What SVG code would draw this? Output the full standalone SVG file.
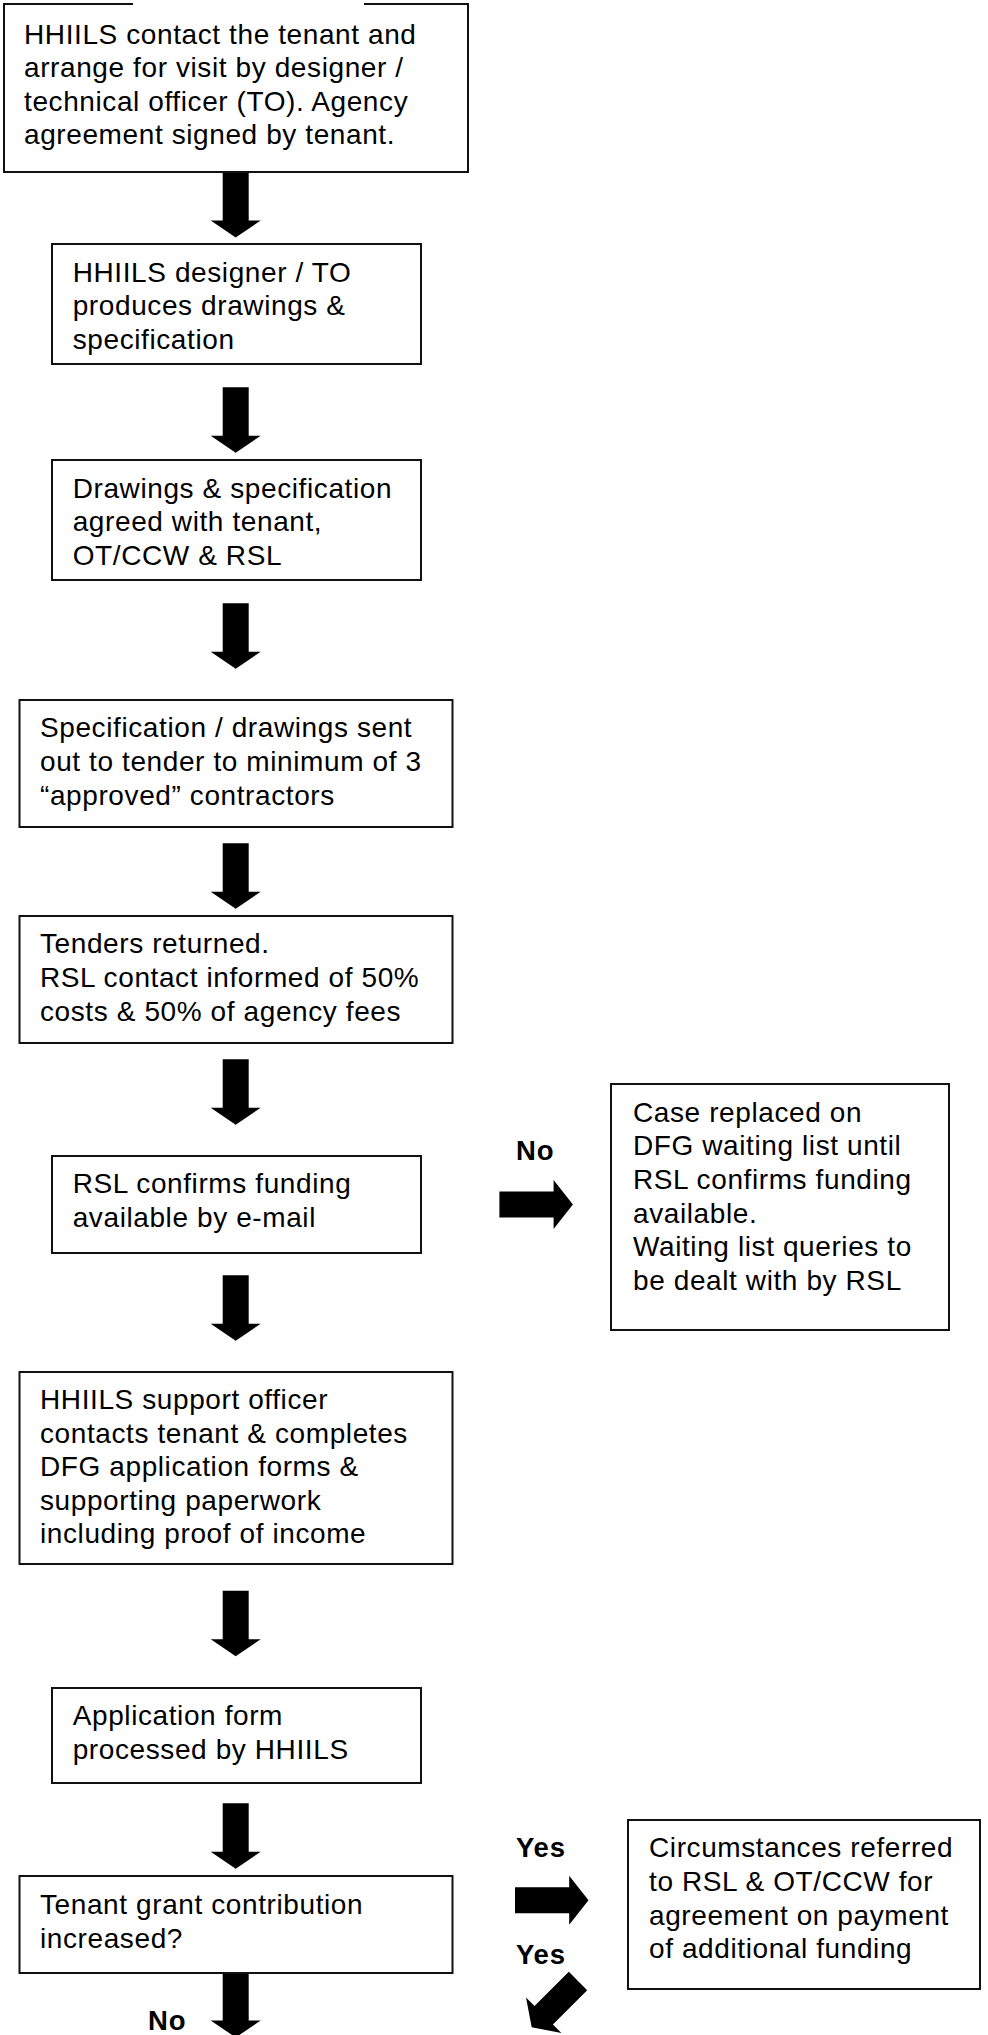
<svg xmlns="http://www.w3.org/2000/svg" xmlns:xlink="http://www.w3.org/1999/xlink" width="988" height="2035" viewBox="0 0 988 2035">
  <style>
    .box { fill: #ffffff; stroke: #111111; stroke-width: 2; }
    .txt { font-family: "Liberation Sans", Arial, Helvetica, sans-serif; font-size: 28px; letter-spacing: 0.6px; fill: #000000; }
    .lbl { font-family: "Liberation Sans", Arial, Helvetica, sans-serif; font-size: 27.5px; font-weight: bold; letter-spacing: 0.8px; fill: #000000; }
    .arrow { fill: #000000; stroke: none; }
  </style>
  <defs>
    <!-- block arrow pointing down, origin at the top centre of the shaft -->
    <path id="arrow-down" class="arrow" d="M-13,0 H13 V48.5 H25 L0,65.5 L-25,48.5 H-13 Z"/>
    <!-- block arrow pointing right, origin at the middle of the tail -->
    <path id="arrow-right" class="arrow" d="M0,-13 H54.2 V-24.5 L73.5,0 L54.2,24.5 V13 H0 Z"/>
  </defs>

  <rect width="988" height="2035" fill="#ffffff"/>

  <!-- connectors -->
  <g id="connectors">
    <use xlink:href="#arrow-down" x="235.7" y="172"/>
    <use xlink:href="#arrow-down" x="235.7" y="387.3"/>
    <use xlink:href="#arrow-down" x="235.7" y="603.3"/>
    <use xlink:href="#arrow-down" x="235.7" y="843.3"/>
    <use xlink:href="#arrow-down" x="235.7" y="1059.3"/>
    <use xlink:href="#arrow-down" x="235.7" y="1275.3"/>
    <use xlink:href="#arrow-down" x="235.7" y="1590.7"/>
    <use xlink:href="#arrow-down" x="235.7" y="1803.3"/>
    <use xlink:href="#arrow-down" x="235.7" y="1972"/>
    <use xlink:href="#arrow-right" x="499.4" y="1204.5"/>
    <use xlink:href="#arrow-right" x="515" y="1900.3"/>
    <use xlink:href="#arrow-down" transform="translate(578,1981) rotate(45)"/>
    <text class="lbl" x="516" y="1160">No</text>
    <text class="lbl" x="516" y="1857">Yes</text>
    <text class="lbl" x="516" y="1963.5">Yes</text>
    <text class="lbl" x="148" y="2030">No</text>
  </g>

  <g id="n1-contact-tenant">
    <path class="box" d="M133,4 H4 V172 H468 V4 H364"/>
    <text class="txt" x="24" y="43.5">HHIILS contact the tenant and</text>
    <text class="txt" x="24" y="77.1">arrange for visit by designer /</text>
    <text class="txt" x="24" y="110.7">technical officer (TO). Agency</text>
    <text class="txt" x="24" y="144.3">agreement signed by tenant.</text>
  </g>

  <g id="n2-drawings">
    <rect class="box" x="52" y="244" width="369" height="120"/>
    <text class="txt" x="72.7" y="281.7">HHIILS designer / TO</text>
    <text class="txt" x="72.7" y="315.3">produces drawings &amp;</text>
    <text class="txt" x="72.7" y="348.9">specification</text>
  </g>

  <g id="n3-agreed">
    <rect class="box" x="52" y="460" width="369" height="120"/>
    <text class="txt" x="72.7" y="497.7">Drawings &amp; specification</text>
    <text class="txt" x="72.7" y="531.3">agreed with tenant,</text>
    <text class="txt" x="72.7" y="564.9">OT/CCW &amp; RSL</text>
  </g>

  <g id="n4-tender">
    <rect class="box" x="19.5" y="700" width="433" height="127"/>
    <text class="txt" x="40" y="737.3">Specification / drawings sent</text>
    <text class="txt" x="40" y="770.9">out to tender to minimum of 3</text>
    <text class="txt" x="40" y="804.5">“approved” contractors</text>
  </g>

  <g id="n5-tenders-returned">
    <rect class="box" x="19.5" y="916" width="433" height="127"/>
    <text class="txt" x="40" y="953.3">Tenders returned.</text>
    <text class="txt" x="40" y="986.9">RSL contact informed of 50%</text>
    <text class="txt" x="40" y="1020.5">costs &amp; 50% of agency fees</text>
  </g>

  <g id="n6-rsl-confirms">
    <rect class="box" x="52" y="1156" width="369" height="97"/>
    <text class="txt" x="72.7" y="1193.3">RSL confirms funding</text>
    <text class="txt" x="72.7" y="1226.9">available by e-mail</text>
  </g>

  <g id="n7-waiting-list">
    <rect class="box" x="611" y="1084" width="338" height="246"/>
    <text class="txt" x="633" y="1121.7">Case replaced on</text>
    <text class="txt" x="633" y="1155.3">DFG waiting list until</text>
    <text class="txt" x="633" y="1188.9">RSL confirms funding</text>
    <text class="txt" x="633" y="1222.5">available.</text>
    <text class="txt" x="633" y="1256.1">Waiting list queries to</text>
    <text class="txt" x="633" y="1289.7">be dealt with by RSL</text>
  </g>

  <g id="n8-support-officer">
    <rect class="box" x="19.5" y="1372" width="433" height="192"/>
    <text class="txt" x="40" y="1409">HHIILS support officer</text>
    <text class="txt" x="40" y="1442.6">contacts tenant &amp; completes</text>
    <text class="txt" x="40" y="1476.2">DFG application forms &amp;</text>
    <text class="txt" x="40" y="1509.8">supporting paperwork</text>
    <text class="txt" x="40" y="1543.4">including proof of income</text>
  </g>

  <g id="n9-application">
    <rect class="box" x="52" y="1688" width="369" height="95"/>
    <text class="txt" x="72.7" y="1725">Application form</text>
    <text class="txt" x="72.7" y="1758.6">processed by HHIILS</text>
  </g>

  <g id="n10-contribution">
    <rect class="box" x="19.5" y="1876" width="433" height="97"/>
    <text class="txt" x="40" y="1914.3">Tenant grant contribution</text>
    <text class="txt" x="40" y="1947.9">increased?</text>
  </g>

  <g id="n11-circumstances">
    <rect class="box" x="628" y="1820" width="352" height="169"/>
    <text class="txt" x="649" y="1857.3">Circumstances referred</text>
    <text class="txt" x="649" y="1890.9">to RSL &amp; OT/CCW for</text>
    <text class="txt" x="649" y="1924.5">agreement on payment</text>
    <text class="txt" x="649" y="1958.1">of additional funding</text>
  </g>
</svg>
